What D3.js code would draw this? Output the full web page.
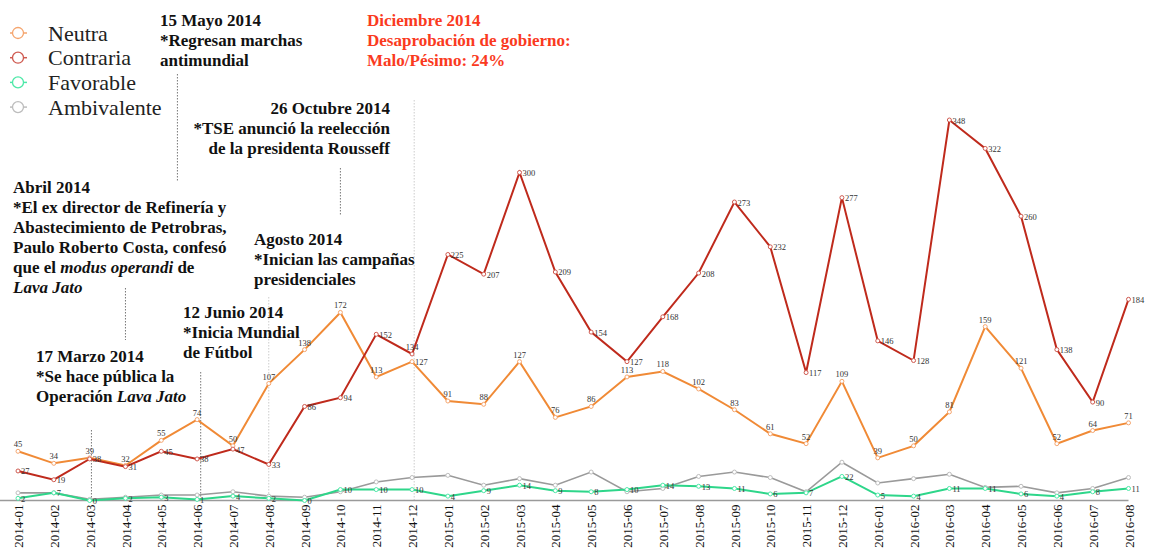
<!DOCTYPE html>
<html>
  <head>
    <meta charset="utf-8">
    <title>Opinión por mes</title>
    <script src="https://cdn.jsdelivr.net/npm/d3@7"></script>
    <style>
      body { margin: 0; background: #fff; }
      text { font-family: "Liberation Serif", "Times New Roman", serif; }
    </style>
  </head>
  <body>
    <svg width="1156" height="556" id="mainsvg"></svg>
    <script>
        // @datos
        const months = ['2014-01','2014-02','2014-03','2014-04','2014-05','2014-06','2014-07','2014-08',
            '2014-09','2014-10','2014-11','2014-12','2015-01','2015-02','2015-03','2015-04',
            '2015-05','2015-06','2015-07','2015-08','2015-09','2015-10','2015-11','2015-12',
            '2016-01','2016-02','2016-03','2016-04','2016-05','2016-06','2016-07','2016-08'];

        const neutra = [45, 34, 39, 32, 55, 74, 50, 107, 138, 172, 113, 127, 91, 88, 127, 76,
            86, 113, 118, 102, 83, 61, 52, 109, 39, 50, 81, 159, 121, 52, 64, 71];
        const contraria = [27, 19, 38, 31, 45, 38, 47, 33, 86, 94, 152, 134, 225, 207, 300, 209,
            154, 127, 168, 208, 273, 232, 117, 277, 146, 128, 348, 322, 260, 138, 90, 184];
        const favorable = [2, 7, 0, 2, 3, 1, 4, 2, 0, 10, 10, 10, 4, 9, 14, 9,
            8, 10, 14, 13, 11, 6, 7, 22, 5, 4, 11, 11, 6, 4, 8, 11];
        // sin etiquetas en el original, leído a ojo
        const ambivalente = [7, 7, 1, 3, 5, 5, 8, 4, 3, 8, 17, 21, 23, 14, 20, 14,
            26, 8, 11, 22, 26, 21, 8, 35, 16, 20, 24, 12, 13, 7, 11, 21];

        const series = [
            {name: 'Neutra', values: neutra, line: '#f08a36', dot: '#f5a56e', label: 'top'},
            {name: 'Contraria', values: contraria, line: '#bf2a1c', dot: '#cf5a50', label: 'right'},
            {name: 'Favorable', values: favorable, line: '#2ed68a', dot: '#4ee8a8', label: 'right'},
            {name: 'Ambivalente', values: ambivalente, line: '#9a9a9a', dot: '#bdbdbd', label: 'none'},
        ];

        // orden de dibujo (gris y verde abajo)
        const drawOrder = [3, 2, 0, 1];

        // etiquetas que en el original van en otro lado (serie, mes) -> posición
        const labelOverride = {'0-11': 'right', '1-11': 'top'};

        // eventos: posición en meses (fraccional), tramo vertical de la línea punteada
        const events = [
            {m: 2.05, y0: 430, y1: 500, dark: true},
            {m: 3.0, y0: 288, y1: 340, dark: true},
            {m: 4.45, y0: 74, y1: 181, dark: true},
            {m: 5.1, y0: 372, y1: 500, dark: true},
            {m: 7.0, y0: 297, y1: 500, dark: false},
            {m: 9.0, y0: 168, y1: 216, dark: true},
            {m: 11.06, y0: 100, y1: 500, dark: false},
        ];

        // @lienzo
        const svg = d3.select('#mainsvg');
        const baseY = 500.5;

        const x = d3.scaleLinear().domain([0, months.length - 1]).range([18, 1128.5]);
        const y = d3.scaleLinear().domain([0, 348]).range([baseY, 120]);

        // líneas punteadas de eventos
        svg.append('g').selectAll('line')
            .data(events).enter().append('line')
            .attr('x1', d => x(d.m)).attr('x2', d => x(d.m))
            .attr('y1', d => d.y0).attr('y2', d => d.y1)
            .attr('stroke', d => d.dark ? '#777' : '#ccc')
            .attr('stroke-width', 1)
            .attr('stroke-dasharray', '1.5,1.5');

        // eje
        svg.append('line')
            .attr('x1', 0).attr('x2', x(months.length - 1))
            .attr('y1', baseY).attr('y2', baseY)
            .attr('stroke', '#9a9a9a').attr('stroke-width', 1.3);

        const xAxis = d3.axisBottom(x)
            .tickValues(d3.range(months.length))
            .tickFormat(i => months[i])
            .tickSize(0);

        const ax = svg.append('g').attr('transform', `translate(0, ${baseY})`).call(xAxis);
        ax.select('.domain').remove();
        ax.selectAll('text')
            .attr('transform', 'rotate(-90)')
            .attr('x', -4).attr('y', 0).attr('dy', '0.35em')
            .style('text-anchor', 'end')
            .style('font-size', '13px')
            .style('font-family', '"Liberation Serif", serif')
            .attr('fill', '#111');

        // series
        const line = d3.line().x((d, i) => x(i)).y(d => y(d));

        drawOrder.forEach(k => {
            const s = series[k];
            const g = svg.append('g');
            g.append('path')
                .datum(s.values)
                .attr('d', line)
                .attr('fill', 'none')
                .attr('stroke', s.line)
                .attr('stroke-width', k === 3 ? 1.6 : 2);
            g.selectAll('circle')
                .data(s.values).enter().append('circle')
                .attr('cx', (d, i) => x(i)).attr('cy', d => y(d))
                .attr('r', 2)
                .attr('fill', '#fff')
                .attr('stroke', s.dot)
                .attr('stroke-width', 1);
        });

        // etiquetas de valores
        drawOrder.forEach(k => {
            const s = series[k];
            if (s.label === 'none') return;
            const pos = i => labelOverride[k + '-' + i] || s.label;
            svg.append('g').selectAll('text')
                .data(s.values).enter().append('text')
                .attr('x', (d, i) => pos(i) === 'top' ? x(i) : x(i) + 3)
                .attr('y', (d, i) => pos(i) === 'top' ? y(d) - 4 : y(d) + 3.5)
                .attr('text-anchor', (d, i) => pos(i) === 'top' ? 'middle' : 'start')
                .style('font-size', '8.5px')
                .attr('fill', '#333')
                .text(d => d);
        });

        // leyenda
        const legend = svg.append('g').selectAll('g')
            .data(series).enter().append('g')
            .attr('transform', (d, i) => `translate(18, ${33 + i * 24.7})`);
        legend.append('line')
            .attr('x1', -8).attr('x2', 9).attr('y1', 0).attr('y2', 0)
            .attr('stroke', d => d.dot).attr('stroke-width', 1.5);
        legend.append('circle')
            .attr('r', 5.5).attr('fill', '#fff')
            .attr('stroke', d => d.dot).attr('stroke-width', 1.3);
        legend.append('text')
            .attr('x', 30).attr('y', 7.5)
            .style('font-size', '22px')
            .attr('fill', '#222')
            .text(d => d.name);

        // anotaciones: x, y de la primera línea, alineación, color, líneas
        const notes = [
            {x: 160, y: 26, anchor: 'start', color: '#111', lines: [
                [['15 Mayo 2014']], [['*Regresan marchas']], [['antimundial']]]},
            {x: 367, y: 26, anchor: 'start', color: '#fa3a1e', lines: [
                [['Diciembre 2014']], [['Desaprobación de gobierno:']], [['Malo/Pésimo: 24%']]]},
            {x: 390, y: 114, anchor: 'end', color: '#111', lines: [
                [['26 Octubre 2014']], [['*TSE anunció la reelección']], [['de la presidenta Rousseff']]]},
            {x: 13, y: 193, anchor: 'start', color: '#111', lines: [
                [['Abril 2014']], [['*El ex director de Refinería y']], [['Abastecimiento de Petrobras,']],
                [['Paulo Roberto Costa, confesó']],
                [['que el '], ['modus operandi', true], [' de']],
                [['Lava Jato', true]]]},
            {x: 254, y: 245, anchor: 'start', color: '#111', lines: [
                [['Agosto 2014']], [['*Inician las campañas']], [['presidenciales']]]},
            {x: 183, y: 318, anchor: 'start', color: '#111', lines: [
                [['12 Junio 2014']], [['*Inicia Mundial']], [['de Fútbol']]]},
            {x: 36, y: 362, anchor: 'start', color: '#111', lines: [
                [['17 Marzo 2014']], [['*Se hace pública la']], [['Operación '], ['Lava Jato', true]]]},
        ];

        notes.forEach(n => {
            const t = svg.append('text')
                .attr('text-anchor', n.anchor)
                .attr('fill', n.color)
                .style('font-size', '17px')
                .style('font-weight', 'bold');
            n.lines.forEach((segs, li) => {
                segs.forEach((seg, si) => {
                    const ts = t.append('tspan').text(seg[0]);
                    if (si === 0) ts.attr('x', n.x).attr('y', n.y + li * 20);
                    if (seg[1]) ts.style('font-style', 'italic');
                });
            });
        });
    </script>
  </body>
</html>
